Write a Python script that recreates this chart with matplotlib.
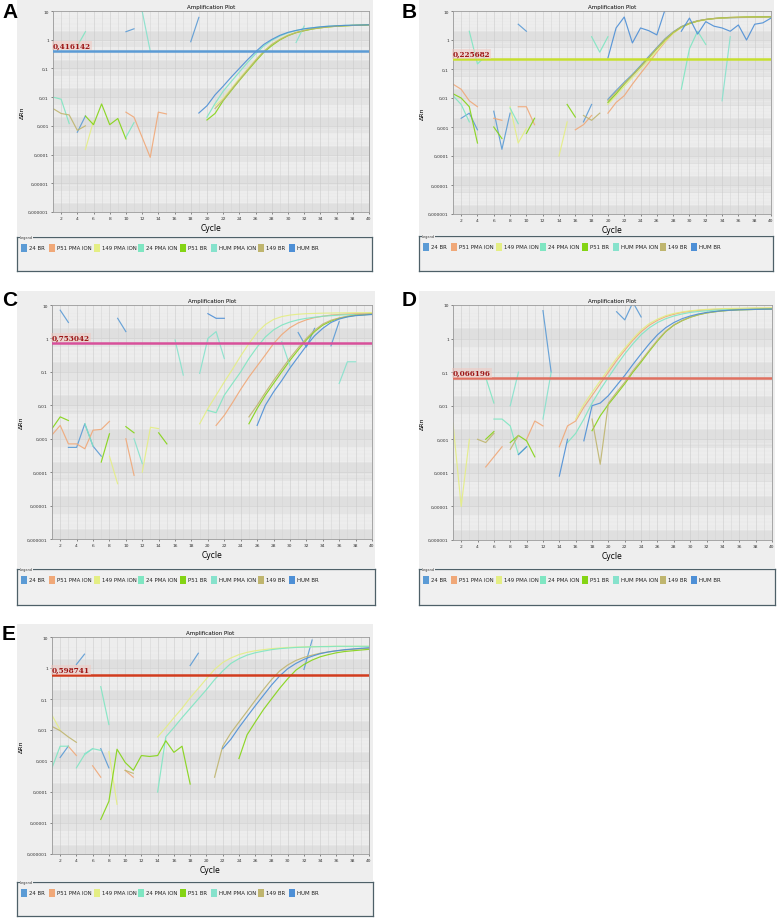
import matplotlib
matplotlib.use("Agg")
import matplotlib.pyplot as plt
from matplotlib.patches import Rectangle
from matplotlib.ticker import FixedLocator
import matplotlib.transforms as mtransforms

W, H = 778, 920

SERIES = ["24 BR", "P51 PMA ION", "149 PMA ION", "24 PMA ION",
          "P51 BR", "HUM PMA ION", "149 BR", "HUM BR"]
COLORS = ["#5b9bd5", "#f0a878", "#e4ee84", "#7fe6c2",
          "#84d414", "#86e2cc", "#bfb56e", "#4d8fd6"]

YTICKS = [1e-6, 1e-5, 1e-4, 1e-3, 1e-2, 1e-1, 1, 10]
YLABELS = ["0,000001", "0,00001", "0,0001", "0,001", "0,01", "0,1", "1", "10"]
XTICKS = list(range(2, 41, 2))

# thresholds (value, label)
THRESHOLDS = {"A": (0.416142, "0,416142"), "B": (0.225682, "0,225682"),
              "C": (0.753042, "0,753042"), "D": (0.066196, "0,066196"),
              "E": (0.598741, "0,598741")}

# each series: list of segments (first cycle, values)
A_24BR = [(4, [0.0006, 0.0022]), (10, [1.9, 2.4]), (18, [0.85, 6.0])]
A_P51PMA = [(10, [0.003, 0.002, 0.0004, 0.00008, 0.003, 0.0026])]
A_149PMA = [(5, [0.00015, 0.0015]),
            (21, [0.005, 0.009, 0.02, 0.045, 0.095, 0.2, 0.4, 0.7, 1.05, 1.45,
                  1.8, 2.1, 2.4, 2.6, 2.8, 2.95, 3.05, 3.15, 3.2, 3.25])]
A_24PMA = [(1, [0.01, 0.0085, 0.0012]), (4, [0.6, 1.9]), (10, [0.0004, 0.0013]),
           (20, [0.002, 0.006, 0.016, 0.035, 0.075, 0.16, 0.32, 0.6, 0.95, 1.35,
                 1.75, 2.1, 2.4, 2.6, 2.8, 2.95, 3.05, 3.15, 3.2, 3.25, 3.3])]
A_P51BR = [(5, [0.0022, 0.0011, 0.0058, 0.0011, 0.0018, 0.00035]),
           (20, [0.0016, 0.0027, 0.0075, 0.017, 0.038, 0.082, 0.175, 0.36, 0.62, 0.98,
                 1.38, 1.75, 2.05, 2.35, 2.6, 2.8, 2.95, 3.05, 3.15, 3.2, 3.3])]
A_HUMPMA = [(12, [10.0, 0.4]), (31, [0.8, 3.0])]
A_149BR = [(1, [0.004, 0.0027, 0.0024, 0.0007, 0.001]),
           (21, [0.004, 0.008, 0.018, 0.04, 0.088, 0.19, 0.38, 0.68, 1.02, 1.4,
                 1.78, 2.1, 2.4, 2.6, 2.8, 2.95, 3.05, 3.15, 3.2, 3.25])]
A_HUMBR = [(19, [0.0028, 0.005, 0.012, 0.024, 0.05, 0.1, 0.2, 0.38, 0.68, 1.02, 1.42,
                 1.8, 2.1, 2.4, 2.6, 2.8, 2.95, 3.05, 3.15, 3.2, 3.25, 3.3])]

B_24BR = [(2, [0.002, 0.003, 0.0008]), (6, [0.0035, 0.00017, 0.003]), (9, [3.5, 2.0]),
          (17, [0.0015, 0.006]),
          (20, [0.009, 0.018, 0.035, 0.065, 0.13, 0.27, 0.55, 1.1, 1.9, 2.9, 3.8,
                4.6, 5.1, 5.5, 5.7, 5.85, 5.95, 6.0, 6.05, 6.1, 6.2])]
B_P51PMA = [(1, [0.03, 0.02, 0.008, 0.005]), (6, [0.002, 0.0017]),
            (9, [0.005, 0.005, 0.0012]), (16, [0.0008, 0.0012, 0.0025]),
            (20, [0.003, 0.007, 0.012, 0.03, 0.07, 0.16, 0.38, 0.85, 1.7, 2.7, 3.7,
                  4.5, 5.1, 5.5, 5.8, 6.0, 6.1, 6.2, 6.25, 6.3, 6.35])]
B_149PMA = [(8, [0.005, 0.00028, 0.0009]), (14, [0.0001, 0.0015]),
            (20, [0.006, 0.012, 0.025, 0.05, 0.1, 0.2, 0.42, 0.9, 1.7, 2.7, 3.6,
                  4.4, 5.0, 5.4, 5.7, 5.9, 6.0, 6.1, 6.15, 6.2, 6.25])]
B_24PMA = [(1, [0.012, 0.006, 0.0015]), (3, [2.0, 0.15, 0.28]), (8, [0.0045, 0.0013]),
           (18, [1.3, 0.38, 1.3]), (29, [0.02, 0.5, 2.0, 0.7])]
B_P51BR = [(1, [0.014, 0.01, 0.005, 0.00028]), (6, [0.001, 0.0004]),
           (10, [0.0006, 0.002]), (15, [0.006, 0.0022]),
           (20, [0.007, 0.014, 0.03, 0.06, 0.12, 0.24, 0.5, 1.0, 1.8, 2.8, 3.7,
                 4.5, 5.1, 5.5, 5.8, 6.0, 6.1, 6.2, 6.25, 6.3, 6.35])]
B_HUMPMA = [(34, [0.008, 1.3])]
B_149BR = [(17, [0.0025, 0.0017, 0.003]),
           (20, [0.008, 0.016, 0.032, 0.06, 0.12, 0.25, 0.52, 1.05, 1.85, 2.85, 3.75,
                 4.55, 5.1, 5.5, 5.75, 5.9, 6.0, 6.1, 6.15, 6.2, 6.3])]
B_HUMBR = [(20, [0.24, 2.6, 6.2, 0.79, 2.6, 2.1, 1.5, 11.0]),
           (29, [2.0, 5.7, 1.6, 4.3, 3.0, 2.6, 2.0, 3.3, 1.0, 3.5, 3.9, 5.7])]

C_24BR = [(2, [7.0, 3.0]), (3, [0.00055, 0.00055, 0.0028, 0.0006, 0.0003]),
          (9, [4.0, 1.6]), (31, [1.5, 0.55, 2.0]), (35, [0.6, 3.2])]
C_P51PMA = [(1, [0.0013, 0.0025, 0.0007, 0.0007, 0.0005, 0.0018, 0.0019, 0.0033]),
            (10, [0.001, 0.00008]),
            (21, [0.0025, 0.005, 0.012, 0.03, 0.07, 0.15, 0.32, 0.7, 1.3, 2.1,
                  2.9, 3.6, 4.2, 4.6, 5.0, 5.2, 5.4, 5.5, 5.6, 5.7])]
C_149PMA = [(8, [0.0003, 0.000045]), (12, [0.0001, 0.0022, 0.002]),
            (19, [0.0028, 0.008, 0.02, 0.05, 0.12, 0.3, 0.7, 1.5, 2.6, 3.7, 4.5,
                  5.0, 5.3, 5.5, 5.6, 5.7, 5.75, 5.8, 5.85, 5.9, 5.9, 5.95])]
C_24PMA = [(5, [0.0028, 0.0006]),
           (20, [0.007, 0.006, 0.02, 0.045, 0.1, 0.25, 0.55, 1.1, 1.8, 2.5, 3.1,
                 3.6, 4.0, 4.3, 4.6, 4.8, 5.0, 5.1, 5.2, 5.25, 5.3])]
C_P51BR = [(1, [0.002, 0.0045, 0.0035]), (7, [0.0002, 0.0014]), (10, [0.0023, 0.0015]),
           (14, [0.0015, 0.0007]),
           (25, [0.0028, 0.008, 0.02, 0.045, 0.1, 0.22, 0.45, 0.9, 1.6, 2.5, 3.3,
                 4.0, 4.5, 4.9, 5.1, 5.3])]
C_HUMPMA = [(11, [0.001, 0.00018]), (16, [0.9, 0.08]), (19, [0.09, 1.0, 1.6, 0.25]),
            (29, [0.8, 0.15]), (36, [0.045, 0.2, 0.2])]
C_149BR = [(25, [0.0045, 0.01, 0.024, 0.055, 0.12, 0.26, 0.52, 1.0, 1.75, 2.7, 3.5,
                 4.1, 4.6, 5.0, 5.2, 5.4])]
C_HUMBR = [(20, [5.5, 4.0, 4.0]),
           (26, [0.0025, 0.01, 0.025, 0.055, 0.13, 0.28, 0.6, 1.2, 2.0, 3.0, 3.8,
                 4.4, 4.8, 5.0, 5.2])]

D_24BR = [(12, [6.8, 0.1]), (21, [6.3, 3.6, 12.0, 4.4])]
D_P51PMA = [(5, [0.00015, 0.0003, 0.0006]), (10, [0.001, 0.0035, 0.0025]),
            (14, [0.0006, 0.0025, 0.0035, 0.009, 0.02, 0.045, 0.1, 0.22, 0.45, 0.9,
                  1.6, 2.5, 3.5, 4.5, 5.3, 6.0, 6.5, 6.9, 7.2, 7.4, 7.6, 7.7, 7.8,
                  7.9, 8.0, 8.0, 8.1])]
D_149PMA = [(1, [0.003, 0.00001, 0.001]),
            (16, [0.004, 0.011, 0.025, 0.055, 0.12, 0.26, 0.52, 1.0, 1.8, 2.8, 3.8,
                  4.8, 5.6, 6.2, 6.7, 7.1, 7.4, 7.6, 7.8, 7.9, 8.0, 8.1, 8.2, 8.2, 8.3])]
D_24PMA = [(5, [0.07, 0.012]), (6, [0.004, 0.004, 0.0025, 0.00035, 0.0006]),
           (15, [0.0008, 0.0015, 0.004, 0.012, 0.03, 0.07, 0.16, 0.35, 0.7, 1.3,
                 2.1, 3.0, 3.9, 4.7, 5.4, 6.0, 6.4, 6.7, 7.0, 7.2, 7.3, 7.4, 7.5,
                 7.5, 7.6, 7.6])]
D_P51BR = [(5, [0.001, 0.0017]), (8, [0.0008, 0.0013, 0.0009, 0.0003]),
           (18, [0.0018, 0.005, 0.011, 0.022, 0.045, 0.1, 0.2, 0.42, 0.85, 1.6, 2.5,
                 3.4, 4.3, 5.1, 5.8, 6.3, 6.7, 7.0, 7.2, 7.3, 7.4, 7.5, 7.5])]
D_HUMPMA = [(8, [0.01, 0.1]), (12, [0.004, 0.1])]
D_149BR = [(4, [0.001, 0.0008, 0.0015]), (8, [0.0005, 0.0013]),
           (18, [0.004, 0.00018, 0.012, 0.025, 0.05, 0.11, 0.22, 0.45, 0.9, 1.65,
                 2.55, 3.45, 4.35, 5.15, 5.8, 6.3, 6.7, 7.0, 7.2, 7.3, 7.4, 7.5, 7.5])]
D_HUMBR = [(9, [0.00035, 0.0006]), (14, [0.00008, 0.001]),
           (17, [0.0009, 0.01, 0.012, 0.02, 0.04, 0.08, 0.17, 0.35, 0.7, 1.3, 2.1,
                 3.0, 3.9, 4.7, 5.4, 6.0, 6.4, 6.8, 7.0, 7.2, 7.3, 7.4, 7.5, 7.6])]

E_24BR = [(2, [0.0013, 0.003]), (4, [1.3, 2.8]), (7, [0.0025, 0.0006]),
          (18, [1.2, 3.0]), (32, [0.9, 8.0])]
E_P51PMA = [(3, [0.003, 0.0015]), (6, [0.0007, 0.0003]), (10, [0.0005, 0.0003])]
E_149PMA = [(1, [0.03, 0.01]), (8, [0.002, 0.00004]),
            (14, [0.006, 0.012, 0.025, 0.05, 0.11, 0.22, 0.45, 0.9, 1.5, 2.1, 2.7,
                  3.2, 3.6, 3.9, 4.2, 4.4, 4.6, 4.7, 4.8, 4.9, 4.9, 5.0, 5.0, 5.0,
                  5.0, 5.0, 5.0])]
E_24PMA = [(1, [0.0006, 0.003, 0.003]), (4, [0.0006, 0.0016, 0.0025, 0.0022]),
           (7, [0.25, 0.015]),
           (14, [0.0001, 0.006, 0.012, 0.025, 0.05, 0.1, 0.2, 0.42, 0.8, 1.4, 2.0,
                 2.6, 3.1, 3.5, 3.9, 4.2, 4.4, 4.6, 4.7, 4.8, 4.9, 4.9, 5.0, 5.0,
                 5.0, 5.0, 5.0])]
E_P51BR = [(7, [0.000013, 0.00005, 0.0024, 0.0009, 0.0005, 0.0015, 0.0014, 0.0015,
                0.0045, 0.0019, 0.003, 0.00018]),
           (24, [0.0012, 0.007, 0.018, 0.045, 0.1, 0.22, 0.45, 0.85, 1.3, 1.8, 2.3,
                 2.7, 3.1, 3.4, 3.6, 3.8, 4.0])]
E_HUMPMA = [(5, [0.0017, 0.0025])]
E_149BR = [(1, [0.013, 0.0095, 0.006, 0.004]), (10, [0.0005, 0.0004]),
           (21, [0.0003, 0.003, 0.008, 0.018, 0.04, 0.09, 0.2, 0.42, 0.8, 1.25, 1.75,
                 2.2, 2.6, 3.0, 3.3, 3.6, 3.8, 4.0, 4.2, 4.3])]
E_HUMBR = [(22, [0.0025, 0.005, 0.012, 0.027, 0.06, 0.13, 0.28, 0.55, 0.95, 1.4, 1.9,
                 2.4, 2.9, 3.3, 3.6, 3.9, 4.1, 4.3, 4.5])]

PANEL_DATA = {
    "A": [A_24BR, A_P51PMA, A_149PMA, A_24PMA, A_P51BR, A_HUMPMA, A_149BR, A_HUMBR],
    "B": [B_24BR, B_P51PMA, B_149PMA, B_24PMA, B_P51BR, B_HUMPMA, B_149BR, B_HUMBR],
    "C": [C_24BR, C_P51PMA, C_149PMA, C_24PMA, C_P51BR, C_HUMPMA, C_149BR, C_HUMBR],
    "D": [D_24BR, D_P51PMA, D_149PMA, D_24PMA, D_P51BR, D_HUMPMA, D_149BR, D_HUMBR],
    "E": [E_24BR, E_P51PMA, E_149PMA, E_24PMA, E_P51BR, E_HUMPMA, E_149BR, E_HUMBR],
}

THR_COLORS = {"A": "#5b9bd5", "B": "#c6df2e", "C": "#d8509a", "D": "#e07060", "E": "#d23c1e"}

# pixel layout: background, plot area, legend box, letter position
LAYOUT = {
    "A": dict(bg=(17, 0, 373, 237), plot=(53, 12, 369, 213), leg=(17, 238, 372, 272), let=(2, 12)),
    "B": dict(bg=(419, 0, 774, 236), plot=(453, 12, 771, 215), leg=(419, 237, 773, 272), let=(402, 12)),
    "C": dict(bg=(17, 292, 375, 569), plot=(52, 306, 372, 540), leg=(17, 570, 375, 606), let=(2, 300)),
    "D": dict(bg=(419, 292, 775, 569), plot=(453, 306, 772, 541), leg=(419, 570, 775, 606), let=(402, 300)),
    "E": dict(bg=(17, 625, 373, 882), plot=(52, 638, 369, 855), leg=(17, 883, 373, 917), let=(2, 634)),
}
LEG_X = [4, 32, 77, 121, 163, 194, 241, 272]


def rect(x0, y0, x1, y1):
    return [x0 / W, 1 - y1 / H, (x1 - x0) / W, (y1 - y0) / H]


fig = plt.figure(figsize=(W / 100, H / 100), dpi=100)
fig.patch.set_facecolor("white")

for key, lay in LAYOUT.items():
    bx0, by0, bx1, by1 = lay["bg"]
    fig.patches.append(Rectangle((bx0 / W, 1 - by1 / H), (bx1 - bx0) / W, (by1 - by0) / H,
                                 transform=fig.transFigure, fc="#eeeeee", ec="none", zorder=-5))

    ax = fig.add_axes(rect(*lay["plot"]))
    ax.set_yscale("log")
    ax.set_xlim(1, 40)
    ax.set_ylim(1e-6, 10)
    ax.set_facecolor("#ebebeb")
    for k in range(-6, 1):
        ax.axhspan(10.0 ** k * 0.55, 10.0 ** k * 2.0, color="#dfdfdf", lw=0, zorder=0)
    for k in range(-6, 1):
        for m in range(2, 10):
            ax.axhline(m * 10.0 ** k, color="#f6f6f6", lw=0.35, zorder=0.5)
        ax.axhline(10.0 ** k, color="#cfcfcf", lw=0.4, zorder=0.5)
    for c in range(1, 41):
        ax.axvline(c, color="#d6d6d6" if c % 2 else "#cbcbcb", lw=0.4, zorder=0.5)

    for segs, col in zip(PANEL_DATA[key], COLORS):
        for start, vals in segs:
            xs = list(range(start, start + len(vals)))
            ax.plot(xs, vals, color=col, lw=0.85, alpha=0.9, zorder=2, clip_on=True)

    thr, thr_txt = THRESHOLDS[key]
    ax.axhline(thr, color=THR_COLORS[key], lw=1.8, zorder=3)
    trans = mtransforms.blended_transform_factory(ax.transAxes, ax.transData)
    ax.text(0.0, thr * 1.08, thr_txt, transform=trans, ha="left", va="bottom",
            fontsize=5.2, fontweight="bold", family="DejaVu Serif", color="#9c1414",
            zorder=4, bbox=dict(boxstyle="square,pad=0.1", fc="#f2c8c0",
                                alpha=0.5, ec="none"))

    ax.yaxis.set_major_locator(FixedLocator(YTICKS))
    ax.set_yticklabels(YLABELS)
    ax.yaxis.set_minor_locator(FixedLocator([]))
    ax.set_xticks(XTICKS)
    ax.tick_params(labelsize=3.2, length=1.5, width=0.4, pad=1.5, colors="#333333")
    for sp in ax.spines.values():
        sp.set_color("#9a9a9a")
        sp.set_linewidth(0.6)
    ax.set_title("Amplification Plot", fontsize=4, pad=2)
    ax.set_xlabel("Cycle", fontsize=5.5, labelpad=2)
    ax.set_ylabel("\u0394Rn", fontsize=4.5, labelpad=2)

    lx, ly = lay["let"]
    fig.text(lx / W, 1 - ly / H, key, fontsize=15, fontweight="bold",
             family="Liberation Sans", ha="left", va="center")

    # legend box
    gx0, gy0, gx1, gy1 = lay["leg"]
    lg = fig.add_axes(rect(gx0, gy0, gx1, gy1))
    lg.set_xlim(0, gx1 - gx0)
    lg.set_ylim(gy1 - gy0, 0)
    lg.set_facecolor("#f0f0f0")
    lg.set_xticks([])
    lg.set_yticks([])
    for sp in lg.spines.values():
        sp.set_color("#4e6068")
        sp.set_linewidth(0.9)
    lg.text(3, 0, "Legend", fontsize=2.5, va="center", ha="left", color="#333333",
            bbox=dict(fc="#f0f0f0", ec="none", pad=0.3))
    for name, col, x in zip(SERIES, COLORS, LEG_X):
        lg.add_patch(Rectangle((x, 6.5), 6, 8, fc=col, ec="none"))
        lg.text(x + 8, 10.5, name, fontsize=3.9, va="center", ha="left", color="#222222")

fig.savefig("out.png", dpi=100)
